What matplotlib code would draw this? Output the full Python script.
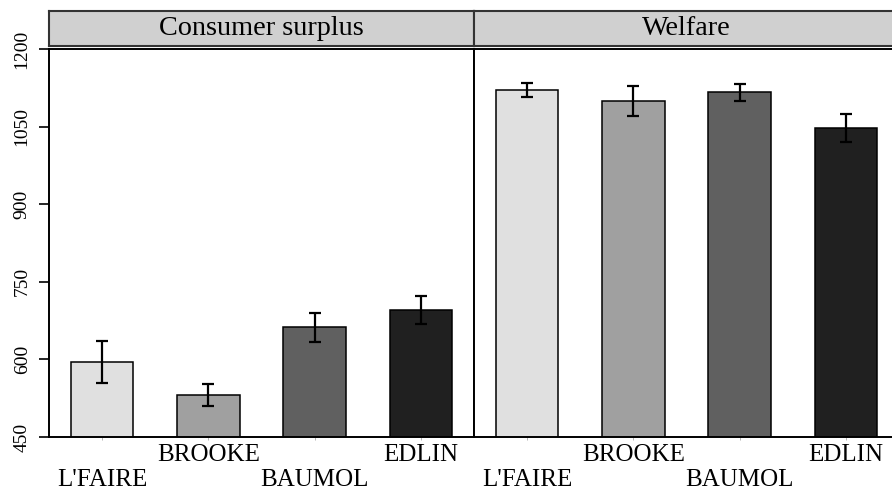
import matplotlib
matplotlib.use("Agg")
import matplotlib.pyplot as plt
import numpy as np

plt.rcParams['font.family'] = ['Liberation Serif', 'DejaVu Serif']

# group means and error half-widths
categories = ["L'FAIRE", "BROOKE", "BAUMOL", "EDLIN"]
panels = ["Consumer surplus", "Welfare"]
cs_mean = [595, 531, 662, 695]
cs_err = [40, 22, 28, 27]
welfare_mean = [1121, 1099, 1116, 1047]
welfare_err = [14, 29, 16, 27]
yticks = [450, 600, 750, 900, 1050, 1200]

bar_colors = ['#e0e0e0', '#a0a0a0', '#606060', '#202020']

W, H = 892, 495
fig = plt.figure(figsize=(W / 100, H / 100), dpi=100)

# panel boxes in pixels
ax_w = 425
ax_top, ax_bot = 49, 437
strip_top, strip_bot = 10.5, 46

x = np.arange(len(categories))
data = [(cs_mean, cs_err), (welfare_mean, welfare_err)]

for i, (title, (means, errs)) in enumerate(zip(panels, data)):
    left = 49 + i * ax_w
    ax = fig.add_axes([left / W, (H - ax_bot) / H, ax_w / W, (ax_bot - ax_top) / H])
    ax.bar(x, means, width=0.59, color=bar_colors, edgecolor='black',
           linewidth=1.1, zorder=2)
    ax.errorbar(x, means, yerr=errs, fmt='none', ecolor='black',
                elinewidth=1.6, capsize=4.6, capthick=1.6, zorder=3)
    ax.set_xlim(-0.5, 3.5)
    ax.set_ylim(450, 1200)
    for s in ax.spines.values():
        s.set_linewidth(1.4)
        s.set_color('black')

    ax.set_xticks(x)
    ax.set_xticklabels(categories, fontsize=18)
    ax.tick_params(axis='x', length=2, width=0.5, color='#999999')
    # stagger the category labels over two rows
    for j, t in enumerate(ax.xaxis.get_major_ticks()):
        t.set_pad(3 if j % 2 == 1 else 21)

    if i == 0:
        ax.set_yticks(yticks)
        ax.set_yticklabels([str(v) for v in yticks], fontsize=14,
                           rotation=90, va='center')
        ax.tick_params(axis='y', length=7.2, width=1.2, pad=6)
    else:
        ax.set_yticks([])

    # panel header strip
    sax = fig.add_axes([left / W, (H - strip_bot) / H, ax_w / W,
                        (strip_bot - strip_top) / H])
    sax.set_facecolor('#d0d0d0')
    sax.set_xticks([])
    sax.set_yticks([])
    for s in sax.spines.values():
        s.set_linewidth(1.5)
        s.set_color('#333333')
    sax.text(0.5, 0.5, title, ha='center', va='center', fontsize=20.3,
             transform=sax.transAxes)

fig.savefig('out.png', dpi=100)
